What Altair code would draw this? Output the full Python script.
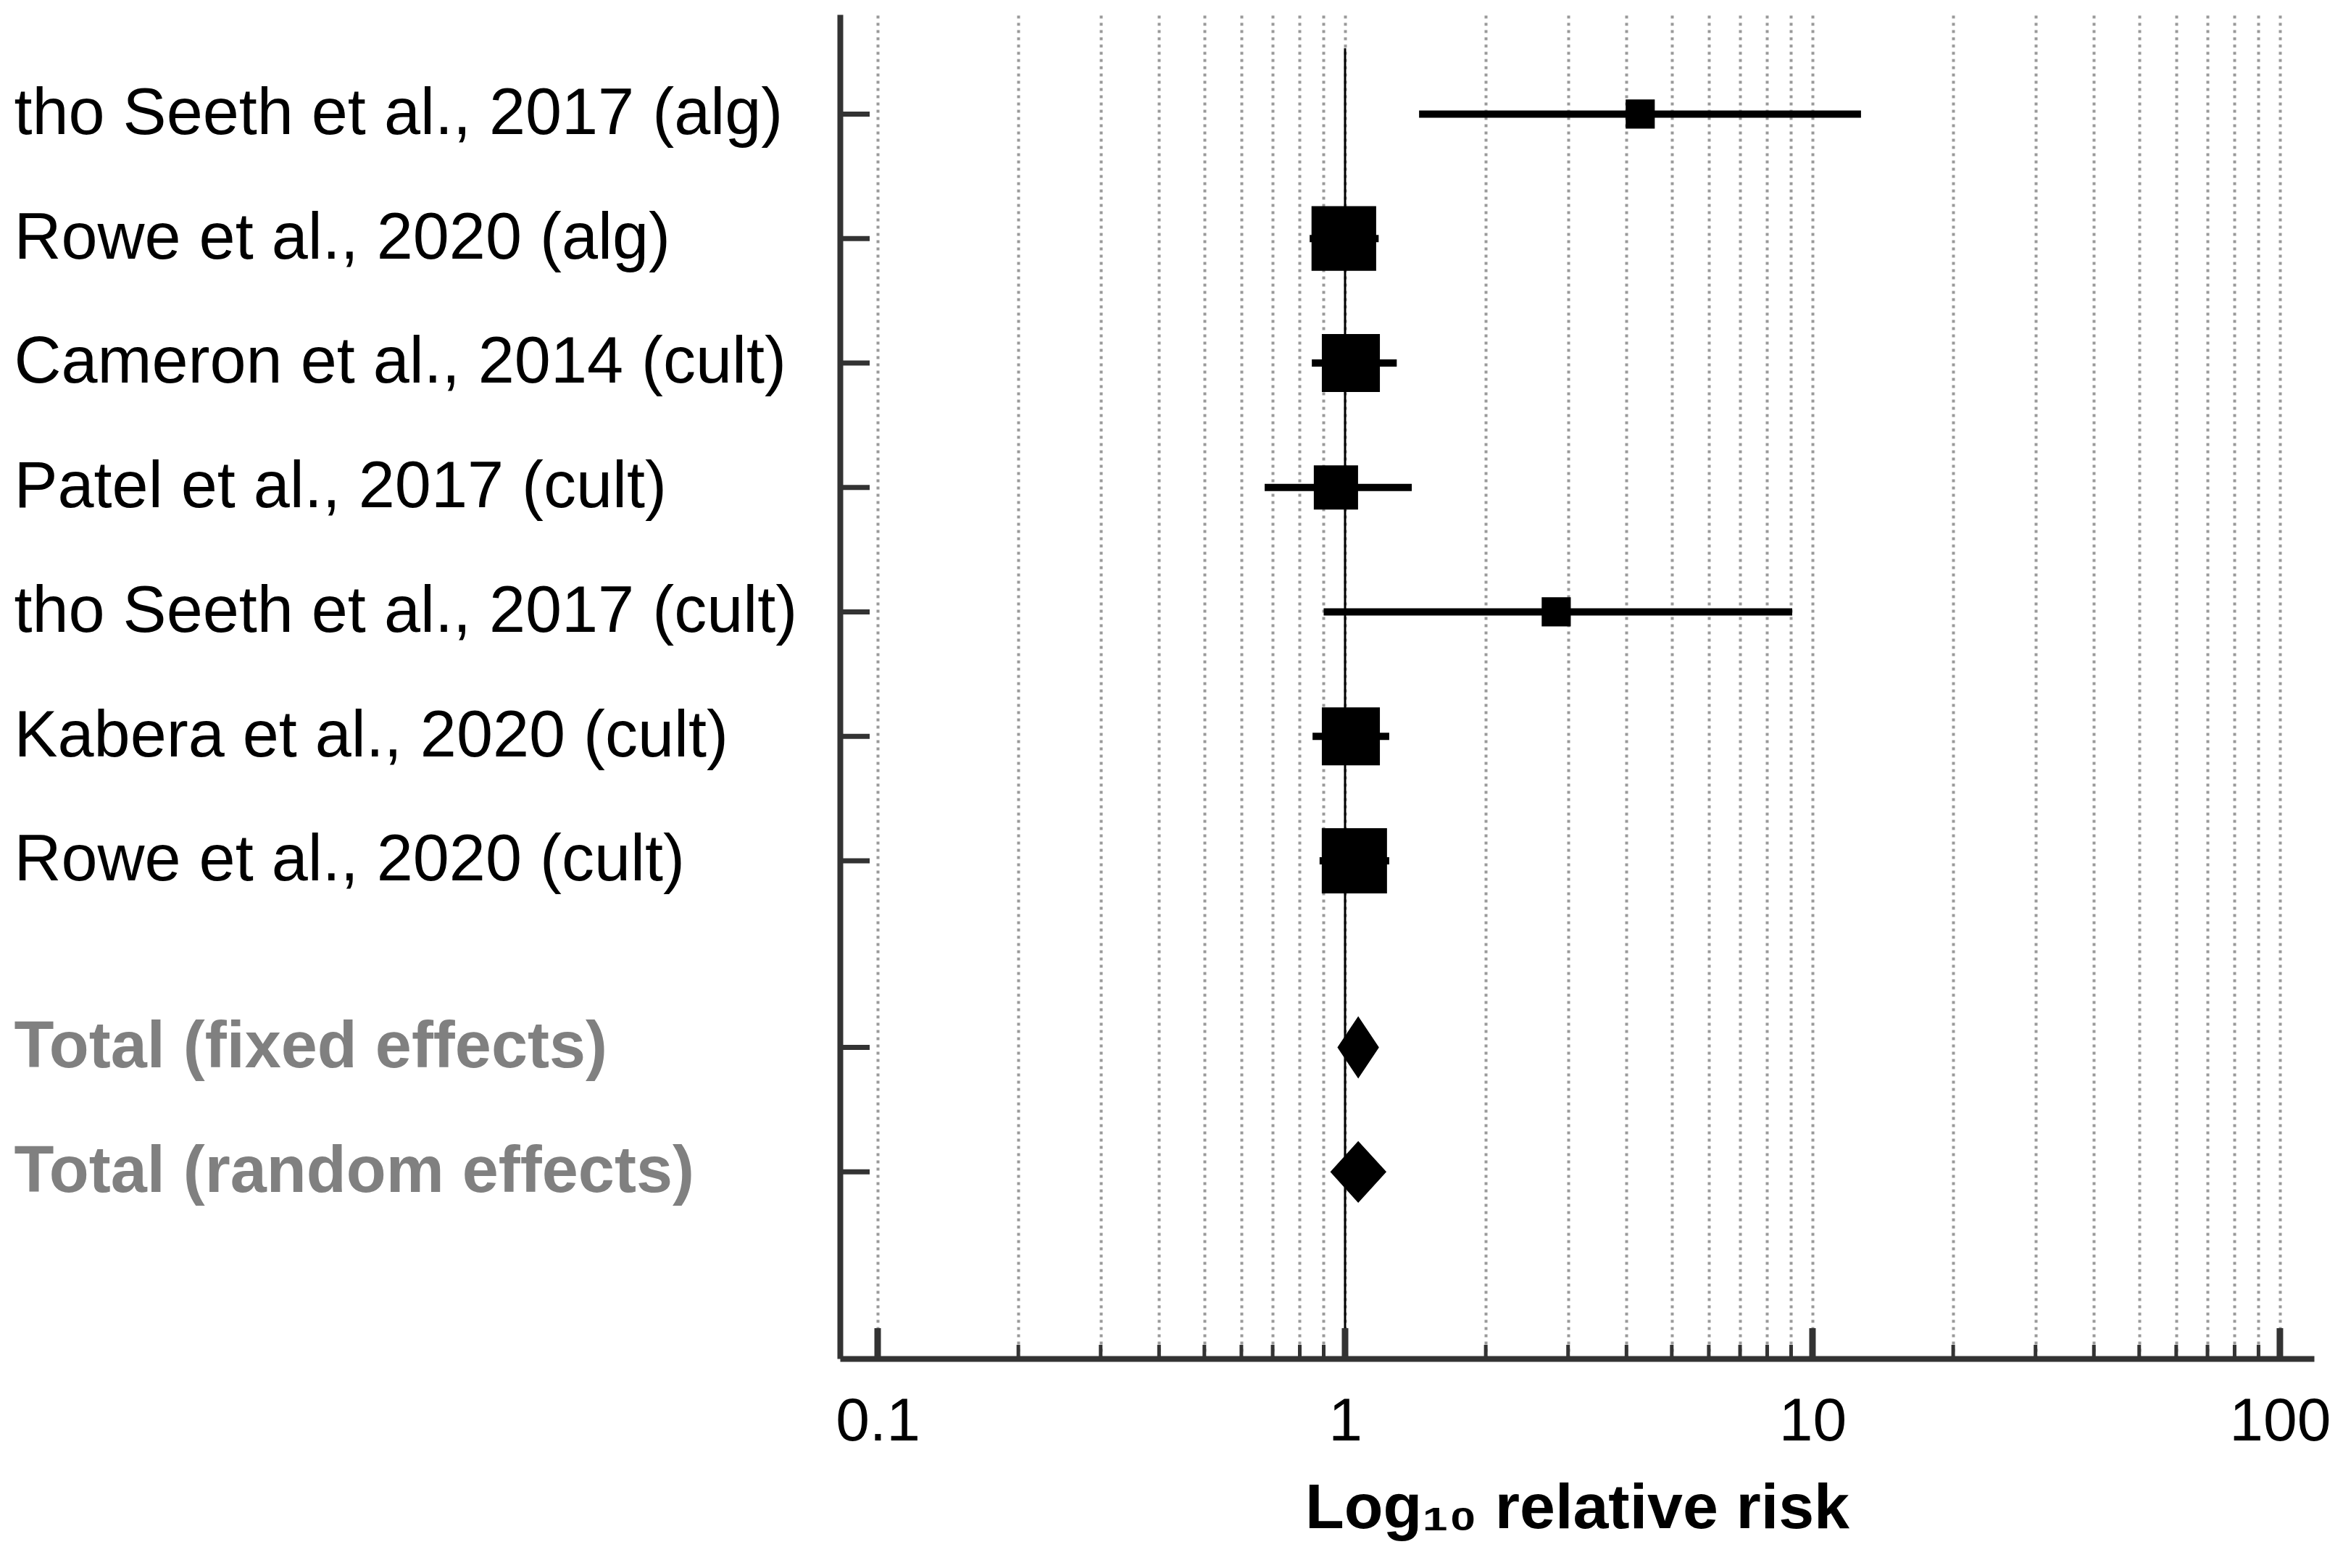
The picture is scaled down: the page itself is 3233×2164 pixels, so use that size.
import altair as alt
import pandas as pd

# ---------------- data ----------------
study_labels = [
    "tho Seeth et al., 2017 (alg)",
    "Rowe et al., 2020 (alg)",
    "Cameron et al., 2014 (cult)",
    "Patel et al., 2017 (cult)",
    "tho Seeth et al., 2017 (cult)",
    "Kabera et al., 2020 (cult)",
    "Rowe et al., 2020 (cult)",
]
study_rows = [1, 2, 3, 4, 5, 6, 7]
study_rr = [4.28, 0.994, 1.029, 0.956, 2.83, 1.029, 1.047]
study_lo = [1.44, 0.84, 0.849, 0.673, 0.90, 0.852, 0.882]
study_hi = [12.7, 1.18, 1.29, 1.389, 9.05, 1.243, 1.243]
study_weight = [4.5, 22.2, 17.9, 10.4, 4.5, 17.9, 22.6]

total_labels = ["Total (fixed effects)", "Total (random effects)"]
total_rows = [8.5, 9.5]
total_rr = [1.067, 1.067]
total_lo = [0.967, 0.934]
total_hi = [1.177, 1.22]

major_ticks = [0.1, 1, 10, 100]
minor_ticks = [0.2, 0.3, 0.4, 0.5, 0.6, 0.7, 0.8, 0.9,
               2, 3, 4, 5, 6, 7, 8, 9,
               20, 30, 40, 50, 60, 70, 80, 90]
ref_value = [1]

# ---------------- tables ----------------
studies = pd.DataFrame({
    "row": study_rows, "label": study_labels, "rr": study_rr,
    "lo": study_lo, "hi": study_hi, "weight": study_weight,
})
HALF = 0.24
diamond_rows = []
for lab, r, e, lo, hi in zip(total_labels, total_rows, total_rr, total_lo, total_hi):
    diamond_rows.append({"label": lab, "x": lo, "y": r, "y2": r})
    diamond_rows.append({"label": lab, "x": e, "y": r - HALF, "y2": r + HALF})
    diamond_rows.append({"label": lab, "x": hi, "y": r, "y2": r})
diamonds = pd.DataFrame(diamond_rows)

all_rows = study_rows + total_rows
all_labels = study_labels + total_labels
row_ticks = pd.DataFrame({"row": all_rows})
major_df = pd.DataFrame({"v": major_ticks})
minor_df = pd.DataFrame({"v": minor_ticks})
ref_df = pd.DataFrame({"v": ref_value, "y": [0.47], "y2": [11]})

# ---------------- layout ----------------
W, H = 2034, 1855
FONT = "Liberation Sans, Arial, Helvetica, sans-serif"

grid_vals = sorted(major_ticks + minor_ticks)
x_label_expr = " : ".join(
    f"datum.value == {v} ? '{v:g}'" for v in major_ticks) + " : ''"
y_label_expr = " : ".join(
    f"datum.value == {r} ? '{l}'" for r, l in zip(all_rows, all_labels)) + " : ''"

x_scale = alt.Scale(type="log", domain=[0.08305, 118.3], nice=False, zero=False)
y_scale = alt.Scale(domain=[0.2, 11], reverse=True, nice=False, zero=False)

x_axis = alt.Axis(
    values=grid_vals, labelExpr=x_label_expr, labelOverlap=False, labelFlush=False,
    labelFontSize=84, labelFont=FONT, labelColor="black", labelPadding=46,
    ticks=False, tickSize=0, domainColor="#333333", domainWidth=8,
    grid=True, gridColor="#999999", gridDash=[4, 6], gridWidth=4,
    title="Log₁₀ relative risk", titleFont=FONT, titleFontSize=88,
    titleFontWeight="bold", titleColor="black", titlePadding=34,
)
y_axis = alt.Axis(
    values=all_rows, labelExpr=y_label_expr, labelOverlap=False,
    labelAlign="left", labelBaseline="middle", labelPadding=1140,
    labelLimit=3000, labelFontSize=90, labelFont=FONT,
    labelColor={"condition": {"test": "datum.value > 8", "value": "#808080"}, "value": "#000000"},
    labelFontWeight={"condition": {"test": "datum.value > 8", "value": "bold"}, "value": "normal"},
    ticks=False, tickSize=0, domainColor="#333333", domainWidth=8,
    grid=False, title=None,
)


def X(field):
    return alt.X(field, type="quantitative", scale=x_scale, axis=x_axis)


def Y(field):
    return alt.Y(field, type="quantitative", scale=y_scale, axis=y_axis)


ref_line = alt.Chart(ref_df).mark_rule(color="black", strokeWidth=3).encode(
    x=X("v"), y=Y("y"), y2="y2")

ci = alt.Chart(studies).mark_rule(color="black", strokeWidth=10).encode(
    x=X("lo"), x2="hi", y=Y("row"))

squares = alt.Chart(studies).mark_square(color="black", filled=True, opacity=1).encode(
    x=X("rr"), y=Y("row"),
    size=alt.Size("weight:Q", scale=alt.Scale(domain=[0, 22.6], range=[0, 8100]), legend=None),
)

diamond = alt.Chart(diamonds).mark_area(color="black", opacity=1, stroke="black",
                                        strokeWidth=2).encode(
    x=X("x"), y=Y("y"), y2="y2", detail="label:N")

y_ticks = alt.Chart(row_ticks).mark_rule(color="#333333", strokeWidth=7).encode(
    y=Y("row"), x=alt.value(0), x2=alt.value(41))

x_major = alt.Chart(major_df).mark_rule(color="#333333", strokeWidth=9).encode(
    x=X("v"), y=alt.value(H), y2=alt.value(H - 42))

x_minor = alt.Chart(minor_df).mark_rule(color="#333333", strokeWidth=5).encode(
    x=X("v"), y=alt.value(H), y2=alt.value(H - 19))

chart = alt.layer(ref_line, ci, squares, diamond, y_ticks, x_major, x_minor).properties(
    width=W, height=H,
    autosize=alt.AutoSizeParams(type="none"),
    padding={"left": 1151, "top": 12, "right": 32, "bottom": 281},
    background="white",
).configure_view(strokeWidth=0)

chart.save("out.html", embed_options={"renderer": "svg", "actions": False})
